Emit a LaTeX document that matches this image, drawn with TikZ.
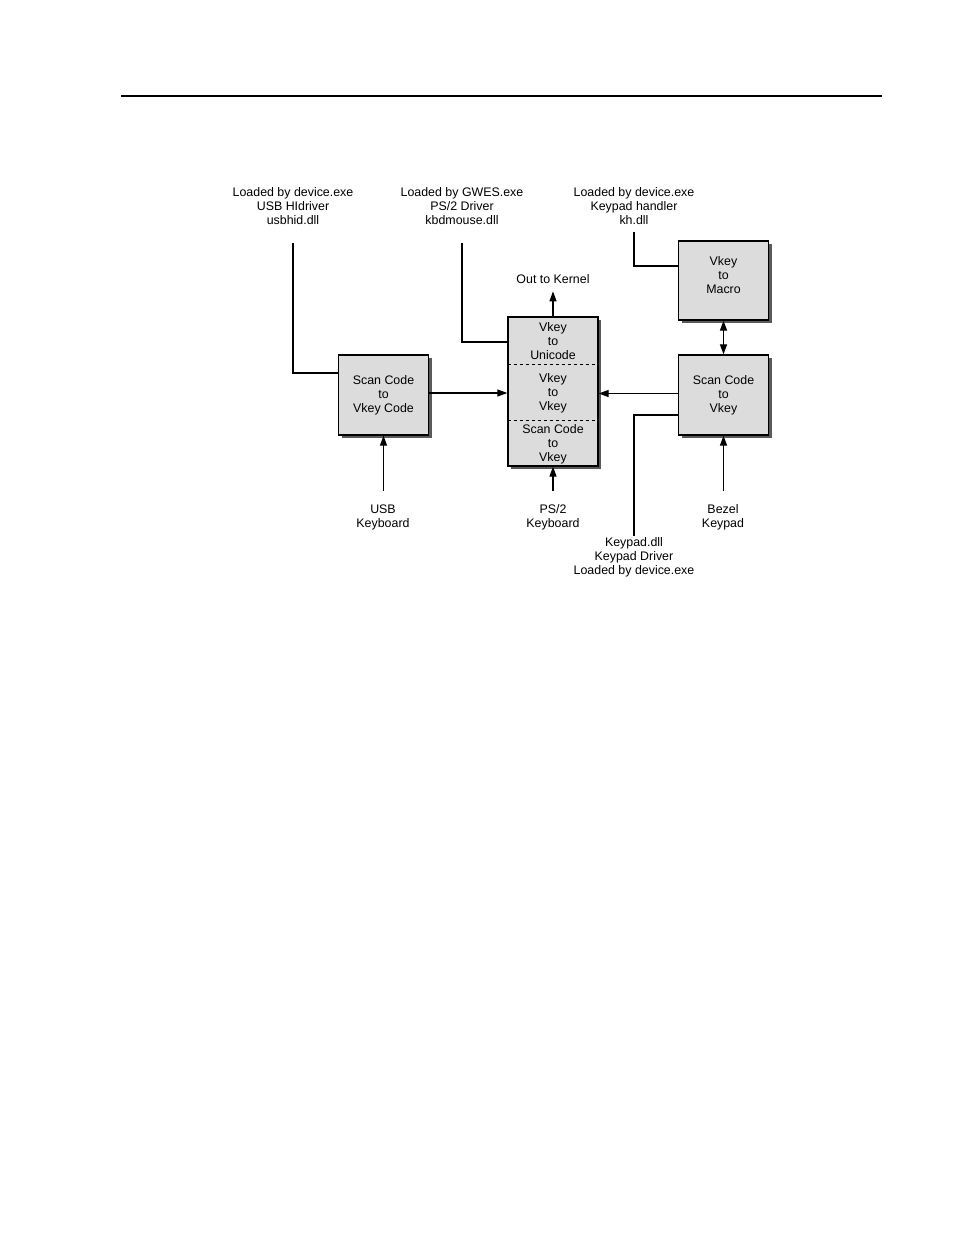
\documentclass[tikz,border=0pt]{standalone}
\usepackage{fontspec}
\setmainfont{Liberation Sans}
\usetikzlibrary{arrows.meta,shadows}
\definecolor{boxgray}{HTML}{DCDCDC}
\definecolor{shadowgray}{HTML}{5A5A5A}
\begin{document}
\begin{tikzpicture}[x=1pt,y=-1pt,
  txt/.style={align=center,inner sep=1pt,font=\fontsize{12.4}{14}\selectfont},
  box/.style={draw,fill=boxgray,line width=1.3pt,minimum width=90pt,minimum height=80pt,
    align=center,inner sep=1pt,font=\fontsize{12.4}{14}\selectfont,
    drop shadow={shadow xshift=3pt,shadow yshift=-3pt,fill=shadowgray,opacity=1}},
  conn/.style={line width=1.2pt},
  arr/.style={line width=1.2pt,-{Triangle[length=10pt,width=7pt]}},
  dblarr/.style={line width=1.2pt,{Triangle[length=10pt,width=7pt]}-{Triangle[length=10pt,width=7pt]}}]
\useasboundingbox (0,0) rectangle (954,1235);
\draw[line width=1.3pt] (121,96) -- (882,96);

% boxes
\node[box] (scanL) at (383.5,395) {Scan Code\\to\\Vkey Code};
\node[box,minimum height=149pt] (mid) at (553,391.5) {};
\draw[dashed,line width=0.9pt] (508,364) -- (598,364);
\draw[dashed,line width=0.9pt] (508,420) -- (598,420);
\node[txt] (m1) at (553,341) {Vkey\\to\\Unicode};
\node[txt] (m2) at (553,393) {Vkey\\to\\Vkey};
\node[txt] (m3) at (553,444) {Scan Code\\to\\Vkey};
\node[box] (scanR) at (723.5,395) {Scan Code\\to\\Vkey};
\node[box,minimum height=79pt] (macro) at (723.5,280.5) {};
\node[txt] (macrot) at (723.5,275) {Vkey\\to\\Macro};

% labels
\node[txt] (usbdrv) at (293,206) {Loaded by device.exe\\USB HIdriver\\usbhid.dll};
\node[txt] (ps2drv) at (462,206) {Loaded by GWES.exe\\PS/2 Driver\\kbdmouse.dll};
\node[txt] (khdrv) at (634,206) {Loaded by device.exe\\Keypad handler\\kh.dll};
\node[txt] (kernel) at (553,279) {Out to Kernel};
\node[txt] (usbkb) at (383,517) {USB\\Keyboard};
\node[txt] (ps2kb) at (553,517) {PS/2\\Keyboard};
\node[txt] (bezel) at (723,517) {Bezel\\Keypad};
\node[txt] (kpdrv) at (634,557) {Keypad.dll\\Keypad Driver\\Loaded by device.exe};

% connectors
\coordinate (usbA) at (293,243);
\draw[conn] (usbA) |- ([yshift=22pt]scanL.west);
\coordinate (ps2A) at (462,243);
\draw[conn] (ps2A) |- ([yshift=49.5pt]mid.west);
\coordinate (khA) at (634,232);
\draw[conn] (khA) |- ([yshift=14.5pt]macro.west);
\draw[arr] (mid.north) -- ([yshift=25pt]mid.north);
\draw[arr] ([yshift=2pt]scanL.east) coordinate (t1) -- (t1 -| mid.west);
\draw[arr] ([yshift=1.5pt]scanR.west) coordinate (t2) -- (t2 -| mid.east);
\draw[dblarr] (macro.south) -- (scanR.north);
\draw[conn] ([yshift=-20pt]scanR.west) -| (kpdrv.north);
\coordinate (usbB) at (383.5,491);
\draw[arr] (usbB) -- (scanL.south);
\coordinate (ps2B) at (553,491);
\draw[arr] (ps2B) -- (mid.south);
\coordinate (bezB) at (723.5,491);
\draw[arr] (bezB) -- (scanR.south);
\end{tikzpicture}
\end{document}
